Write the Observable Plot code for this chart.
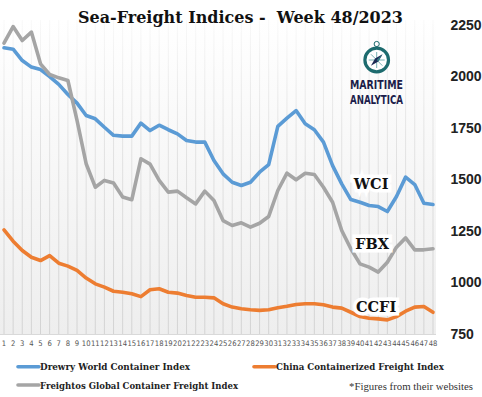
<!DOCTYPE html>
<html><head><meta charset="utf-8">
<script src="https://cdn.jsdelivr.net/npm/d3@7"></script>
<script src="https://cdn.jsdelivr.net/npm/@observablehq/plot@0.6"></script>
<style>
html,body{margin:0;padding:0;background:#fff;}
#wrap{position:relative;width:482px;height:397px;overflow:hidden;}
#chart{position:absolute;left:0;top:0;}
#overlay{position:absolute;left:0;top:0;}
</style></head><body>
<div id="wrap"><div id="chart"></div><svg id="overlay" width="482" height="397" xmlns="http://www.w3.org/2000/svg">
  <text x="78" y="23.3" font-family="DejaVu Serif" font-weight="bold" font-size="17" fill="#111" textLength="325" lengthAdjust="spacingAndGlyphs" style="white-space:pre">Sea-Freight Indices -  Week 48/2023</text>
  <g id="logo">
    <line x1="376.7" y1="46.5" x2="376.7" y2="48.5" stroke="#1d6b6e" stroke-width="1.4"/>
    <circle cx="376.7" cy="44" r="2.6" fill="none" stroke="#1d6b6e" stroke-width="1"/>
    <circle cx="376.7" cy="60" r="11.8" fill="#fff" stroke="#1d6b6e" stroke-width="3.2"/>
    <g stroke="#6aa9ab" stroke-width="0.9">
      <line x1="376.7" y1="52" x2="376.7" y2="68"/>
      <line x1="368.7" y1="60" x2="384.7" y2="60"/>
      <line x1="371" y1="54.3" x2="382.4" y2="65.7"/>
    </g>
    <polygon points="382.5,54.2 378.3,61.6 370.9,65.8 375.1,58.4" fill="#1c2a55"/>
    <polygon points="382.5,54.2 378.3,61.6 376.7,60" fill="#2f7f84"/>
    <text x="350" y="89.3" font-family="DejaVu Sans Condensed, DejaVu Sans" font-weight="bold" font-size="11.5" fill="#1c1d4a" textLength="53" lengthAdjust="spacingAndGlyphs">MARITIME</text>
    <text x="350" y="104" font-family="DejaVu Sans Condensed, DejaVu Sans" font-weight="bold" font-size="11.5" fill="#1c1d4a" textLength="53" lengthAdjust="spacingAndGlyphs">ANALYTICA</text>
  </g>
  <g id="legend"></g>
  <text x="349" y="389.5" font-family="Liberation Serif, Times New Roman" font-size="10.5" fill="#333" textLength="124" lengthAdjust="spacingAndGlyphs">*Figures from their websites</text>
</svg></div>
<script>
const weeks = [1,2,3,4,5,6,7,8,9,10,11,12,13,14,15,16,17,18,19,20,21,22,23,24,25,26,27,28,29,30,31,32,33,34,35,36,37,38,39,40,41,42,43,44,45,46,47,48];
const wci = [2142,2135,2080,2048,2036,2002,1964,1915,1873,1813,
             1797,1756,1717,1713,1713,1776,1740,1766,1744,1724,
             1692,1684,1684,1595,1530,1489,1473,1489,1538,1575,
             1760,1800,1837,1773,1744,1684,1570,1481,1405,1392,
             1376,1371,1347,1420,1514,1478,1387,1381];
const ccfi = [1258,1203,1158,1125,1109,1133,1096,1082,1061,1024,
              996,980,960,955,948,934,967,972,955,951,
              939,931,931,928,899,883,875,870,867,870,
              880,887,896,899,899,894,883,878,858,837,
              829,826,821,837,863,883,886,858];
const fbx = [2164,2245,2177,2218,2064,2012,1996,1983,1789,1579,
             1465,1498,1485,1417,1404,1603,1577,1498,1441,1446,
             1414,1384,1446,1400,1303,1279,1292,1271,1290,1323,
             1449,1533,1501,1533,1527,1465,1392,1255,1166,1093,
             1077,1053,1101,1174,1219,1161,1161,1166];
const yTicks = [750,1000,1250,1500,1750,2000,2250];
const seriesNames = ["Drewry World Container Index","China Containerized Freight Index","Freightos Global Container Freight Index"];
const shortNames = ["WCI","CCFI","FBX"];
const colors = ["#5b9bd5","#ed7d31","#a5a5a5"];
const seriesValues = [wci, ccfi, fbx];

const rows = [];
seriesValues.forEach((arr, s) => arr.forEach((v, i) => rows.push({series: seriesNames[s], week: weeks[i], value: v})));

const labelWeek = 41;
const labelRows = seriesValues.map((arr, s) => ({name: shortNames[s], week: labelWeek, value: arr[weeks.indexOf(labelWeek)]}));
const labelDy = {WCI: -21, FBX: -22.5, CCFI: -10.5};
const labelDx = {WCI: 2, FBX: 3, CCFI: 7};

const W = 482, H = 352, mT = 25, mB = 18, mL = 0, mR = 46;
const NS = "http://www.w3.org/2000/svg";

function background(index, scales, values, dims) {
  const g = document.createElementNS(NS, "g");
  const defs = document.createElementNS(NS, "defs");
  const top = dims.marginTop - 5, bottom = dims.height - dims.marginBottom;
  defs.innerHTML =
    `<linearGradient id="bgGrad" gradientUnits="userSpaceOnUse" x1="0" y1="${top}" x2="0" y2="${bottom}">
       <stop offset="0" stop-color="#ffffff"/><stop offset="1" stop-color="#eeeeee"/></linearGradient>
     <linearGradient id="gridGrad" gradientUnits="userSpaceOnUse" x1="0" y1="${top}" x2="0" y2="${bottom}">
       <stop offset="0" stop-color="#d6d6d6" stop-opacity="0.15"/><stop offset="0.35" stop-color="#d6d6d6" stop-opacity="0.6"/><stop offset="1" stop-color="#d3d3d3" stop-opacity="1"/></linearGradient>`;
  g.appendChild(defs);
  const r = document.createElementNS(NS, "rect");
  r.setAttribute("x", dims.marginLeft);
  r.setAttribute("y", top);
  r.setAttribute("width", dims.width - dims.marginLeft - dims.marginRight);
  r.setAttribute("height", bottom - top);
  r.setAttribute("fill", "url(#bgGrad)");
  g.appendChild(r);
  return g;
}

const chart = Plot.plot({
  width: W, height: H,
  marginTop: mT, marginBottom: mB, marginLeft: mL, marginRight: mR,
  style: {background: "transparent", overflow: "visible"},
  x: {domain: [1, 48], inset: 3.5},
  y: {domain: [750, 2250]},
  color: {domain: seriesNames, range: colors},
  marks: [
    background,
    Plot.ruleX(weeks, {x: d => d, y1: 750, y2: 2250 + 24, stroke: "url(#gridGrad)", strokeWidth: 1}),
    Plot.ruleY([750], {stroke: "#d9d9d9", strokeWidth: 1}),
    Plot.axisX(weeks, {tickSize: 0, tickPadding: 6, fontSize: 7.6, fill: "#555", fontFamily: "DejaVu Sans Condensed, DejaVu Sans", tickFormat: d => String(d), label: null}),
    Plot.axisY(yTicks, {anchor: "right", tickSize: 0, tickPadding: 14, fontSize: 14, fontWeight: "bold", fill: "#222", fontFamily: "Liberation Sans, Arial", tickFormat: d => String(d), label: null}),
    Plot.line(rows, {x: "week", y: "value", stroke: "series", z: "series", strokeWidth: 3.6, strokeLinejoin: "round", strokeLinecap: "round"}),
    Plot.text(labelRows, {x: "week", y: "value", text: "name",
      fontSize: 14.5, fontWeight: "bold", fontFamily: "DejaVu Serif", fill: "#111",
      stroke: "white", strokeWidth: 7, strokeLinejoin: "miter",
      render: (index, scales, values, dims, context, next) => {
        const g = next(index, scales, values, dims, context);
        d3.select(g).selectAll("text").each(function(_, k) {
          const d = labelRows[index[k]];
          const t = d3.select(this);
          const tr = t.attr("transform") || "";
          t.attr("transform", tr + ` translate(${labelDx[d.name]},${labelDy[d.name]})`);
        });
        return g;
      }})
  ]
});
document.getElementById("chart").appendChild(chart);

// legend (SVG overlay, real text)
const legend = d3.select("#legend");
const legendItems = [
  {s: 0, x: 18, y: 366.7, len: 150},
  {s: 1, x: 254, y: 366.7, len: 168},
  {s: 2, x: 18, y: 385, len: 198}
];
legendItems.forEach(it => {
  legend.append("line").attr("x1", it.x).attr("x2", it.x + 21).attr("y1", it.y).attr("y2", it.y)
    .attr("stroke", colors[it.s]).attr("stroke-width", 3.6).attr("stroke-linecap", "round");
  legend.append("text").attr("x", it.x + 22).attr("y", it.y + 3.6)
    .attr("font-family", "DejaVu Serif").attr("font-weight", "bold").attr("font-size", 10)
    .attr("fill", "#222").attr("textLength", it.len).attr("lengthAdjust", "spacingAndGlyphs")
    .text(seriesNames[it.s]);
});
</script>
</body></html>
